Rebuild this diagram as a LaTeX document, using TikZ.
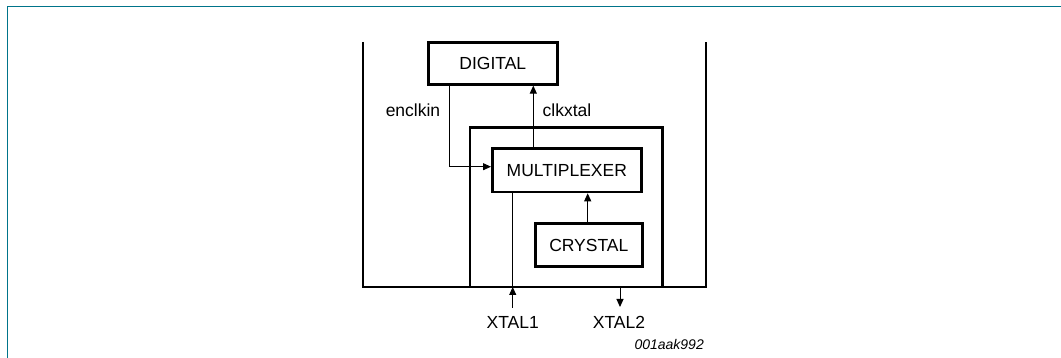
\documentclass[tikz,border=0pt]{standalone}
\usepackage{fontspec}
\setmainfont{Liberation Sans}
\usetikzlibrary{arrows.meta}
\definecolor{frameteal}{RGB}{0,116,138}
\begin{document}
\begin{tikzpicture}[x=1pt,y=-1pt,
  blk/.style={draw,line width=2.6pt,inner sep=0pt,anchor=north west,font=\fontsize{17.5}{20}\selectfont},
  wire/.style={line width=1pt},
  arr/.style={wire,-{Triangle[length=8pt,width=7pt]}},
  lbl/.style={font=\fontsize{17.5}{20}\selectfont,inner sep=0pt}]
\useasboundingbox (0,0) rectangle (1061,358);
\draw[frameteal,line width=1.4pt] (1061,6.3) -- (7.3,6.3) -- (7.3,358);
% outer U
\draw[line width=2.6pt] (363,42) -- (363,287) -- (706,287) -- (706,42);
% inner box
\draw[line width=2.6pt] (470,287) -- (470,127.3) -- (662.7,127.3) -- (662.7,287);
% blocks
\node[blk,minimum width=129pt,minimum height=42pt] (dig) at (427,41) {DIGITAL};
\node[blk,minimum width=149pt,minimum height=43.4pt] (mux) at (491,147.3) {MULTIPLEXER};
\node[blk,minimum width=107pt,minimum height=43pt] (cry) at (534,222.3) {CRYSTAL};
% connectors
\draw[arr] (mux.north -| 533.3,0) -- (dig.south -| 533.3,0);
\draw[arr] (dig.south -| 449.3,0) |- (mux.west |- 0,166.7);
\draw[arr] (cry.north -| 587.7,0) -- (mux.south -| 587.7,0);
\coordinate (x1) at (512.7,308);
\coordinate (x1b) at (512.7,287);
\coordinate (x2) at (620,287);
\coordinate (x2e) at (620,307);
\draw[arr] (x1) -- (x1b);
\draw[wire] (x1b) -- (mux.south -| x1b);
\draw[arr] (x2) -- (x2e);
% labels
\node[lbl] (enc) at (413,110) {enclkin};
\node[lbl] (clk) at (567,110) {clkxtal};
\node[lbl] (t1) at (512.7,322) {XTAL1};
\node[lbl] (t2) at (619,322) {XTAL2};
\node[lbl,font=\fontsize{14}{16}\selectfont\itshape,anchor=east] (id) at (704,344) {001aak992};
\end{tikzpicture}
\end{document}
